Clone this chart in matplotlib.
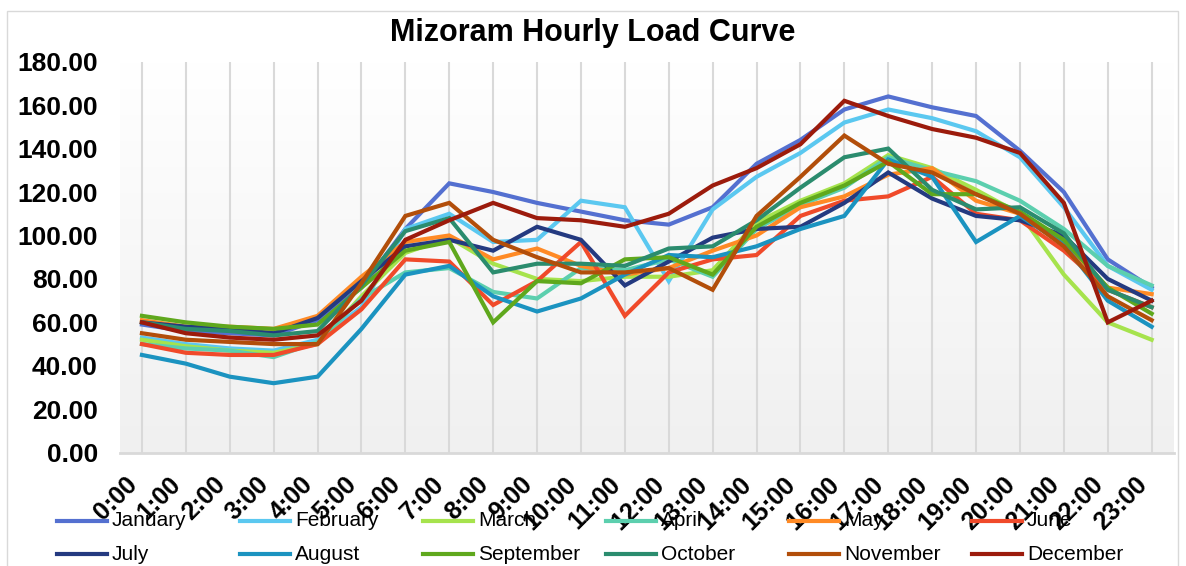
import numpy as np
import matplotlib
matplotlib.use('Agg')
import matplotlib.pyplot as plt
from matplotlib.colors import LinearSegmentedColormap
from matplotlib.lines import Line2D
from matplotlib.patches import Rectangle
from matplotlib.transforms import ScaledTranslation

plt.rcParams['font.family'] = ['Liberation Sans', 'DejaVu Sans']

# hourly load data
hours = ['0:00', '1:00', '2:00', '3:00', '4:00', '5:00', '6:00', '7:00', '8:00', '9:00', '10:00', '11:00',
         '12:00', '13:00', '14:00', '15:00', '16:00', '17:00', '18:00', '19:00', '20:00', '21:00', '22:00', '23:00']
months = ['January', 'February', 'March', 'April', 'May', 'June',
          'July', 'August', 'September', 'October', 'November', 'December']

jan = [59, 56, 55, 54, 61, 76, 103, 124, 120, 115, 111, 107, 105, 113, 133, 144, 158, 164, 159, 155, 139, 120, 89, 76]
feb = [53, 50, 48, 47, 52, 67, 103, 110, 97, 98, 116, 113, 79, 112, 127, 138, 152, 158, 154, 148, 136, 113, 86, 75]
mar = [52, 49, 47, 46, 50, 72, 92, 99, 87, 80, 79, 81, 81, 84, 106, 116, 124, 137, 131, 121, 110, 82, 60, 52]
apr = [50, 48, 47, 44, 51, 71, 83, 85, 74, 71, 85, 84, 89, 81, 103, 114, 122, 136, 130, 125, 116, 103, 86, 77]
may = [61, 58, 58, 57, 63, 81, 97, 100, 89, 94, 86, 82, 85, 93, 100, 113, 118, 128, 131, 116, 110, 97, 76, 73]
jun = [50, 46, 45, 45, 50, 66, 89, 88, 68, 79, 97, 63, 83, 89, 91, 109, 116, 118, 127, 110, 107, 93, 75, 67]
jul = [60, 58, 57, 55, 62, 79, 95, 98, 93, 104, 98, 77, 88, 99, 103, 104, 115, 129, 117, 109, 107, 100, 80, 70]
aug = [45, 41, 35, 32, 35, 57, 82, 86, 72, 65, 71, 82, 91, 90, 95, 103, 109, 135, 127, 97, 109, 96, 70, 58]
sep = [63, 60, 58, 57, 59, 76, 93, 97, 60, 79, 78, 89, 90, 82, 104, 115, 123, 134, 119, 119, 111, 98, 76, 64]
octo = [60, 57, 56, 54, 56, 77, 102, 108, 83, 87, 87, 86, 94, 95, 107, 122, 136, 140, 121, 112, 113, 101, 75, 67]
nov = [55, 52, 51, 50, 50, 78, 109, 115, 98, 90, 83, 83, 85, 75, 109, 127, 146, 133, 129, 119, 110, 95, 72, 61]
dec = [60, 55, 53, 52, 54, 70, 98, 107, 115, 108, 107, 104, 110, 123, 131, 142, 162, 155, 149, 145, 138, 115, 60, 70]

series = [jan, feb, mar, apr, may, jun, jul, aug, sep, octo, nov, dec]
colors = ['#5470D0', '#5BC8F0', '#A6E34D', '#5CCFAE', '#FF8A25', '#F04A2A',
          '#243A80', '#1B93C0', '#5FA81D', '#2B8C6E', '#B24E0A', '#9C1B0C']

fig = plt.figure(figsize=(11.86, 5.66), dpi=100)
ax = fig.add_axes([120 / 1186, 1 - 452.7 / 566, 1053.6 / 1186, 391 / 566])

# plot area gradient background
cmap = LinearSegmentedColormap.from_list('bg', ['#f0f0f0', '#ffffff'])
ax.imshow(np.linspace(0, 1, 256).reshape(-1, 1), extent=[0, 1, 0, 1], transform=ax.transAxes,
          cmap=cmap, aspect='auto', origin='lower', zorder=0)

x = np.arange(len(hours))
for vals, c, m in zip(series, colors, months):
    ax.plot(x, vals, color=c, lw=3, label=m, zorder=3, solid_joinstyle='miter')

ax.set_xlim(-0.5, 23.5)
ax.set_ylim(0, 180)
ax.set_yticks(np.arange(0, 181, 20))
ax.set_yticklabels([f'{v:.2f}' for v in np.arange(0, 181, 20)], fontsize=19, fontweight='bold')
ax.set_xticks(x)
ax.set_xticklabels(hours, rotation=45, ha='right', va='top', fontsize=18, fontweight='bold')
offset = ScaledTranslation(8 / 100, 0, fig.dpi_scale_trans)
for lab in ax.get_xticklabels():
    lab.set_transform(lab.get_transform() + offset)
ax.tick_params(axis='x', length=0, pad=14)
ax.tick_params(axis='y', length=0, pad=16)

ax.xaxis.grid(True, color='#d9d9d9', lw=1.5, zorder=1)
ax.set_axisbelow(True)
for s in ['top', 'left', 'right']:
    ax.spines[s].set_visible(False)
ax.spines['bottom'].set_color('#d9d9d9')
ax.spines['bottom'].set_linewidth(2)

fig.text(593 / 1186, 1 - 33 / 566, 'Mizoram Hourly Load Curve', ha='center', va='center',
         fontsize=22, fontweight='bold')

# legend, two rows of six
for i, (m, c) in enumerate(zip(months, colors)):
    col, row = i % 6, i // 6
    x0 = (57 + 183 * col) / 1186
    y0 = 1 - (521 + 33 * row) / 566
    fig.add_artist(Line2D([x0, x0 + 50 / 1186], [y0, y0], color=c, lw=3, transform=fig.transFigure))
    fig.text(x0 + 55 / 1186, y0, m, ha='left', va='center', fontsize=15)

fig.patches.append(Rectangle((7 / 1186, -0.01), 1171 / 1186, 1 - 11 / 566 + 0.01, transform=fig.transFigure,
                             fill=False, ec='#d9d9d9', lw=1))

fig.savefig('out.png', dpi=100)
